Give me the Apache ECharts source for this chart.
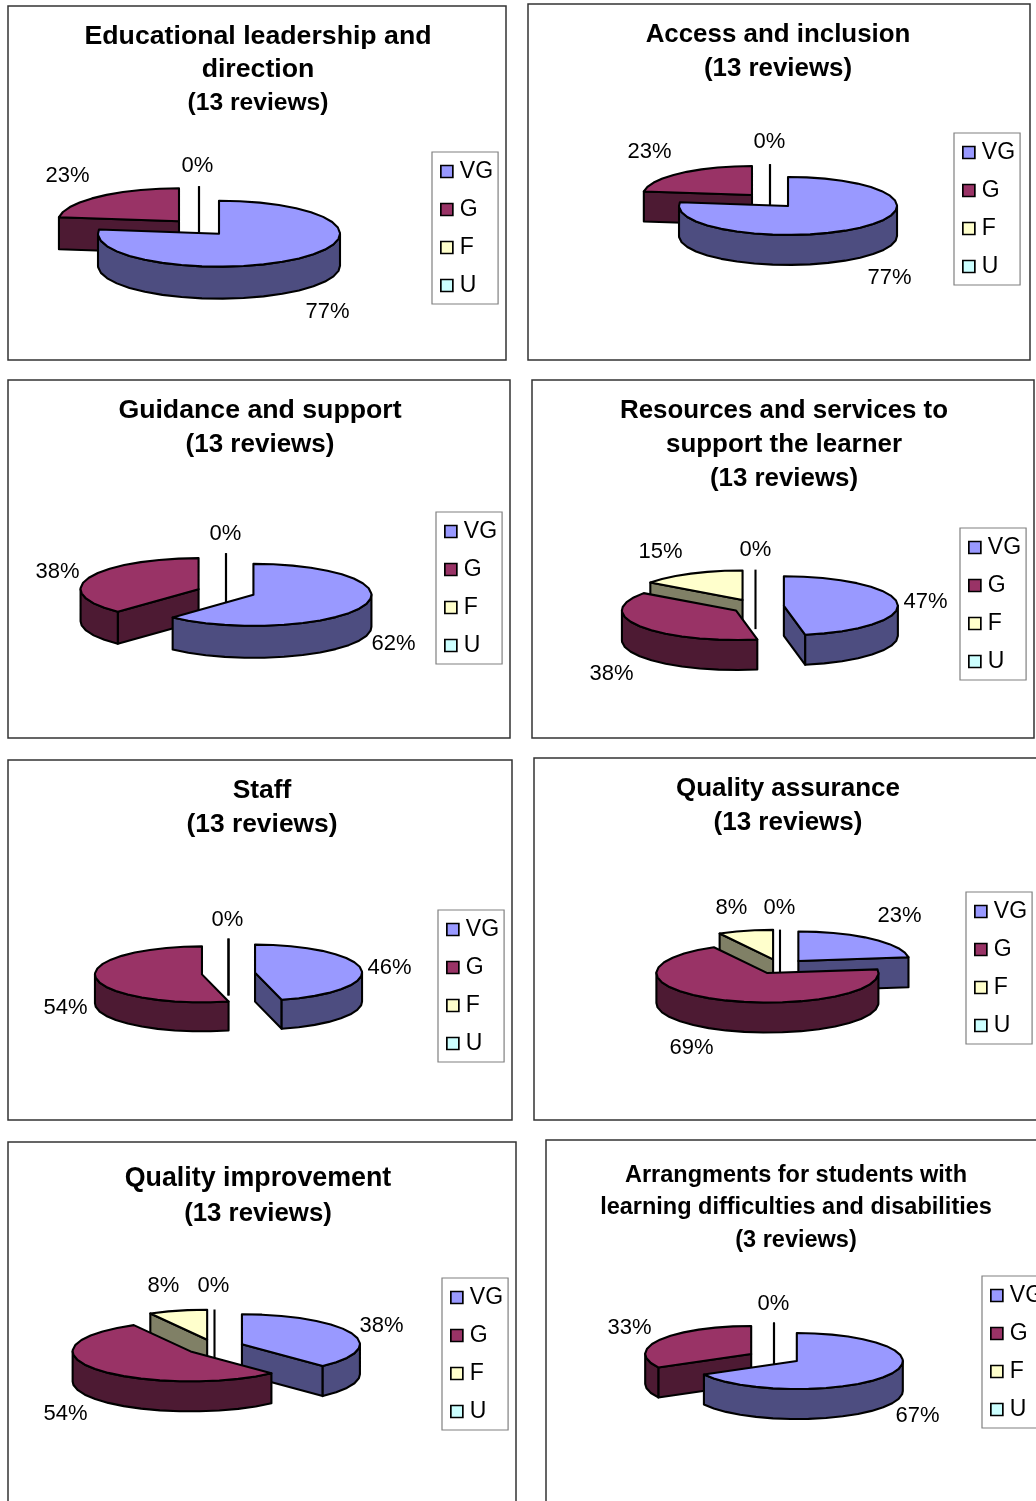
<!DOCTYPE html>
<html>
<head>
<meta charset="utf-8">
<title>Inspection grades by aspect</title>
<script src="https://cdn.jsdelivr.net/npm/echarts@6/dist/echarts.min.js"></script>
<style>
  html, body { margin: 0; padding: 0; background: #fff; }
  #chart { width: 1036px; height: 1501px; }
</style>
</head>
<body>
<div id="chart"></div>
<script>
// Grade categories shared by every pie
const grades = ['VG', 'G', 'F', 'U'];

// Percentage of reviews per grade, in the order of `grades`
const leadershipValues  = [77, 23, 0, 0];
const accessValues      = [77, 23, 0, 0];
const guidanceValues    = [62, 38, 0, 0];
const resourcesValues   = [47, 38, 15, 0];
const staffValues       = [46, 54, 0, 0];
const assuranceValues   = [23, 69, 8, 0];
const improvementValues = [38, 54, 8, 0];
const arrangementValues = [67, 33, 0, 0];

// Chart headings
const leadershipTitle  = ['Educational leadership and', 'direction', '(13 reviews)'];
const accessTitle      = ['Access and inclusion', '(13 reviews)'];
const guidanceTitle    = ['Guidance and support', '(13 reviews)'];
const resourcesTitle   = ['Resources and services to', 'support the learner', '(13 reviews)'];
const staffTitle       = ['Staff', '(13 reviews)'];
const assuranceTitle   = ['Quality assurance', '(13 reviews)'];
const improvementTitle = ['Quality improvement', '(13 reviews)'];
const arrangementTitle = ['Arrangments for students with', 'learning difficulties and disabilities', '(3 reviews)'];

// Slice colours: top face and shaded side
const topColors  = ['#9999ff', '#993366', '#ffffcc', '#ccffff'];
const sideColors = ['#4d4d80', '#4d1a33', '#808066', '#668080'];

const FONT = '"Liberation Sans", Arial, sans-serif';
const EXPLODE = 0.25;
const AXIS_SPAN = 1.5;
const OUTLINE = 2.1;

// Panel layout: frame box, heading placement, pie ellipse, legend corner, label centres
const panels = [
  { values: leadershipValues, title: leadershipTitle, frame: [8, 6, 498, 354], tx: 258, ty: 35, lh: 33.5, fs: 26.7, lastFs: 24.6,
    cx: 199, cy: 227.5, rx: 121, ry: 33, depth: 32, legend: [432, 152],
    labels: [[327, 311], [67, 175], null, [197, 165]] },
  { values: accessValues, title: accessTitle, frame: [528, 4, 502, 356], tx: 778, ty: 33, lh: 34, fs: 25.9,
    cx: 770, cy: 200.5, rx: 109, ry: 29, depth: 30, legend: [954, 133],
    labels: [[889, 277], [649, 151], null, [769, 141]] },
  { values: guidanceValues, title: guidanceTitle, frame: [8, 380, 502, 358], tx: 260, ty: 409, lh: 34, fs: 26.7, lastFs: 26,
    cx: 226, cy: 592, rx: 118, ry: 31, depth: 32, legend: [436, 512],
    labels: [[393, 643], [57, 571], null, [225, 533]] },
  { values: resourcesValues, title: resourcesTitle, frame: [532, 380, 502, 358], tx: 784, ty: 409, lh: 34, fs: 25.9,
    cx: 755.5, cy: 606.5, rx: 114, ry: 29.5, depth: 30, legend: [960, 528], nudge: [0, 4.5, 0, 0],
    labels: [[925, 601], [611, 673], [660, 551], [755, 549]] },
  { values: staffValues, title: staffTitle, frame: [8, 760, 504, 360], tx: 262, ty: 789, lh: 34, fs: 26.4,
    cx: 228.5, cy: 973.5, rx: 107, ry: 28, depth: 29, legend: [438, 910],
    labels: [[389, 967], [65, 1007], null, [227, 919]] },
  { values: assuranceValues, title: assuranceTitle, frame: [534, 758, 520, 362], tx: 788, ty: 787, lh: 34, fs: 26,
    cx: 780, cy: 966.5, rx: 111, ry: 29.5, depth: 30, legend: [966, 892],
    labels: [[899, 915], [691, 1047], [731, 907], [779, 907]] },
  { values: improvementValues, title: improvementTitle, frame: [8, 1142, 508, 380], tx: 258, ty: 1177, lh: 35, fs: 26.8, lastFs: 25.8,
    cx: 214.5, cy: 1347, rx: 118, ry: 30, depth: 30, legend: [442, 1278],
    labels: [[381, 1325], [65, 1413], [163, 1285], [213, 1285]] },
  { values: arrangementValues, title: arrangementTitle, frame: [546, 1140, 520, 380], tx: 796, ty: 1174, lh: 32.5, fs: 23.5,
    cx: 774, cy: 1357.5, rx: 106, ry: 28, depth: 30, legend: [982, 1276],
    labels: [[917, 1415], [629, 1327], null, [773, 1303]] }
];

// Offset of a slice pulled out along its bisector, in unit-ellipse coordinates
function sliceOffset(start, value) {
  const mid = (start + value / 2) * Math.PI / 50;
  return [EXPLODE * Math.sin(mid), EXPLODE * Math.cos(mid)];
}

// Sample angles along a slice's arc, keeping the ellipse's left and right extremes
function arcAngles(a0, a1) {
  const steps = Math.max(2, Math.ceil((a1 - a0) / (Math.PI / 18)));
  const arc = [];
  for (let i = 0; i <= steps; i++) arc.push(a0 + (a1 - a0) * i / steps);
  [Math.PI / 2, Math.PI * 1.5].forEach(a => {
    if (a > a0 && a < a1) arc.push(a);
  });
  return arc.sort((x, y) => x - y);
}

// Draws one extruded elliptical slice through the panel's hidden axes
function sliceRenderer(panel, gradeIndex) {
  return function (params, api) {
    const start = api.value(0);
    const value = api.value(1);
    const off = sliceOffset(start, value);
    const drop = panel.depth / panel.ry;
    const nudgeX = (panel.nudge ? panel.nudge[gradeIndex] : 0) / panel.rx;
    const point = (a, r, low) => api.coord([
      off[0] + nudgeX + r * Math.sin(a),
      off[1] + r * Math.cos(a) - (low ? drop : 0)
    ]);
    const a0 = start * Math.PI / 50;
    const a1 = (start + value) * Math.PI / 50;
    const stroke = { stroke: '#000', lineWidth: OUTLINE, lineJoin: 'round' };
    const children = [];

    if (value === 0) {
      children.push({
        type: 'polyline',
        shape: { points: [point(a0, 1, false), point(a0, 0, true)] },
        style: { stroke: '#000', lineWidth: OUTLINE, fill: null }
      });
    } else {
      const arc = arcAngles(a0, a1);
      const sideStyle = Object.assign({ fill: sideColors[gradeIndex] }, stroke);
      const cutFace = a => ({
        type: 'polygon',
        shape: { points: [point(a, 0, false), point(a, 1, false), point(a, 1, true), point(a, 0, true)] },
        style: sideStyle
      });
      // A cut face only shows when it turns towards the viewer
      if (Math.sin(a0) < -1e-6) children.push(cutFace(a0));
      if (Math.sin(a1) > 1e-6) children.push(cutFace(a1));

      // Outer wall: the stretch of the arc on the near half of the ellipse
      const near = arc.filter(a => Math.cos(a) <= 1e-9);
      if (near.length > 1) {
        const wall = near.map(a => point(a, 1, false))
          .concat(near.slice().reverse().map(a => point(a, 1, true)));
        children.push({ type: 'polygon', shape: { points: wall }, style: sideStyle });
      }

      const face = [point(0, 0, false)].concat(arc.map(a => point(a, 1, false)));
      children.push({
        type: 'polygon',
        shape: { points: face },
        style: Object.assign({ fill: topColors[gradeIndex] }, stroke)
      });
    }

    const labelAt = panel.labels[gradeIndex];
    if (labelAt) {
      children.push({
        type: 'text',
        x: labelAt[0] + 0.5,
        y: labelAt[1] + 1,
        style: {
          text: value + '%',
          fill: '#000',
          font: '22px ' + FONT,
          align: 'center',
          verticalAlign: 'middle'
        }
      });
    }
    return { type: 'group', children: children };
  };
}

const option = {
  backgroundColor: '#fff',
  animation: false,
  title: [], legend: [], grid: [], xAxis: [], yAxis: [], series: [],
  graphic: { elements: [] }
};

panels.forEach((p, index) => {
  option.graphic.elements.push({
    type: 'rect',
    silent: true,
    z: -1,
    shape: { x: p.frame[0], y: p.frame[1], width: p.frame[2], height: p.frame[3] },
    style: { fill: '#fff', stroke: '#333', lineWidth: 1.5 }
  });

  // The reviews line may be set slightly smaller than the heading above it
  const lastIndex = p.title.length - 1;
  const headingStyle = { fontFamily: FONT, fontWeight: 'bold', color: '#000', lineHeight: p.lh };
  option.title.push({
    text: p.title.map((line, i) => (i === lastIndex && p.lastFs ? '{last|' : '{head|') + line + '}').join('\n'),
    left: p.tx,
    top: p.ty - p.lh / 2 + 1.5,
    textAlign: 'center',
    padding: 0,
    textStyle: {
      fontFamily: FONT, fontWeight: 'bold', fontSize: p.fs, lineHeight: p.lh, color: '#000',
      rich: {
        head: Object.assign({ fontSize: p.fs }, headingStyle),
        last: Object.assign({ fontSize: p.lastFs || p.fs }, headingStyle)
      }
    }
  });

  option.legend.push({
    orient: 'vertical',
    left: p.legend[0],
    top: p.legend[1],
    padding: [6, 5, 5, 8],
    itemWidth: 12,
    itemHeight: 12,
    itemGap: 11,
    selectedMode: false,
    backgroundColor: '#fff',
    borderColor: '#808080',
    borderWidth: 1.2,
    textStyle: { fontFamily: FONT, fontSize: 23, color: '#000', lineHeight: 26, padding: [1, 0, 0, 2] },
    data: grades.map((g, i) => ({
      name: g,
      icon: 'rect',
      itemStyle: { color: topColors[i], borderColor: '#000', borderWidth: 1.7 }
    }))
  });

  // Unit-ellipse axes: one data unit equals one radius in each direction
  option.grid.push({
    left: p.cx - AXIS_SPAN * p.rx,
    top: p.cy - AXIS_SPAN * p.ry,
    width: 2 * AXIS_SPAN * p.rx,
    height: 2 * AXIS_SPAN * p.ry,
    outerBoundsMode: 'none'
  });
  option.xAxis.push({ type: 'value', gridIndex: index, min: -AXIS_SPAN, max: AXIS_SPAN, show: false });
  option.yAxis.push({ type: 'value', gridIndex: index, min: -AXIS_SPAN, max: AXIS_SPAN, show: false });

  // Paint slices from the back of the pie to the front
  let running = 0;
  const slices = p.values.map((value, i) => {
    const s = { i, start: running, value, dy: sliceOffset(running, value)[1] };
    running += value;
    return s;
  });
  const order = slices.slice().sort((a, b) => b.dy - a.dy);

  slices.forEach(s => {
    option.series.push({
      type: 'custom',
      name: grades[s.i],
      coordinateSystem: 'cartesian2d',
      xAxisIndex: index,
      yAxisIndex: index,
      silent: true,
      clip: false,
      z: 2 + order.indexOf(s),
      itemStyle: { color: topColors[s.i] },
      data: [[s.start, s.value]],
      renderItem: sliceRenderer(p, s.i)
    });
  });
});

const chart = echarts.init(document.getElementById('chart'), null, { renderer: 'canvas' });
chart.setOption(option);
</script>
</body>
</html>
